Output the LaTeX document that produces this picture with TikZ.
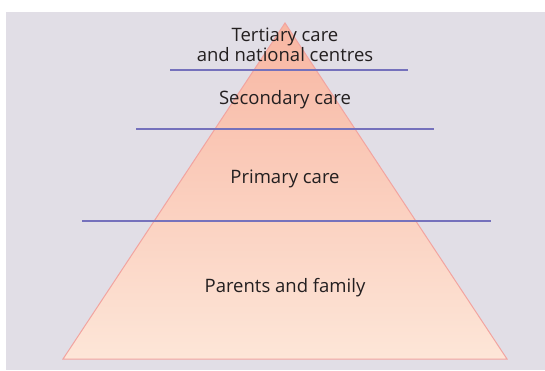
\documentclass[tikz,border=0pt]{standalone}
\usepackage{fontspec}
\setmainfont{Open Sans}
\definecolor{bgc}{HTML}{E1DEE6}
\definecolor{tritop}{HTML}{F8B6A2}
\definecolor{tribot}{HTML}{FDE6D8}
\definecolor{triedge}{HTML}{F2A4A0}
\definecolor{levline}{HTML}{7571BC}
\definecolor{txt}{HTML}{231F20}
\tikzset{
  lbl/.style={font=\fontsize{18.5}{18}\selectfont, text=txt, align=center, inner sep=0pt},
  level/.style={draw=levline, line width=1.3pt},
}
\begin{document}
\begin{tikzpicture}[x=1pt,y=1pt]
\useasboundingbox (0,0) rectangle (545,370);
\fill[bgc] (6,0) rectangle (545,358);
\coordinate (apex) at (285,347);
\coordinate (bl) at (63,11);
\coordinate (br) at (507,11);
\shade[top color=tritop, bottom color=tribot] (apex) -- (br) -- (bl) -- cycle;
\draw[triedge, line width=1pt, line join=miter] (apex) -- (br) -- (bl) -- cycle;
\draw[level] (170,300) -- (408,300);
\draw[level] (136,241) -- (434,241);
\draw[level] (82,149) -- (491,149);
\node[lbl] (tert) at (285,325) {Tertiary care\\and national centres};
\node[lbl] (sec) at (285,270) {Secondary care};
\node[lbl] (prim) at (285,191) {Primary care};
\node[lbl] (par) at (285,82) {Parents and family};
\end{tikzpicture}
\end{document}
